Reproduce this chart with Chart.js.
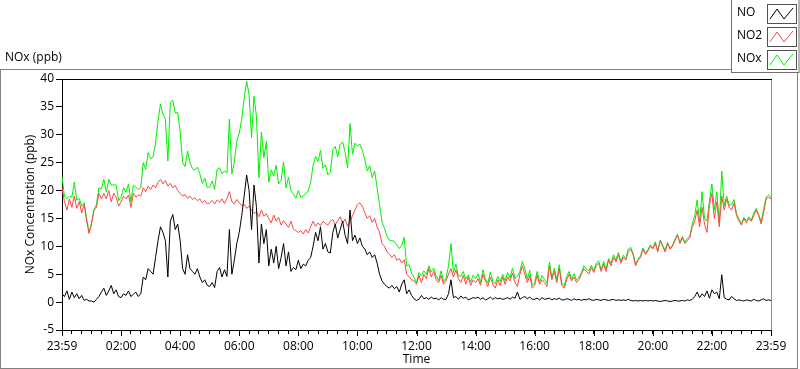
<!DOCTYPE html>
<html lang="en">
<head>
<meta charset="UTF-8">
<title>NOx (ppb)</title>
<style>
  html, body { margin: 0; padding: 0; background: #fff; }
  canvas { display: block; }
</style>
</head>
<body>
<canvas id="noxChart" width="800" height="369"></canvas>

<script src="https://cdn.jsdelivr.net/npm/chart.js@4.4.0/dist/chart.umd.min.js"></script>
<script>
// tick labels of the time axis, one every two hours
var timeLabels = ['23:59', '02:00', '04:00', '06:00', '08:00', '10:00', '12:00',
                  '14:00', '16:00', '18:00', '20:00', '22:00', '23:59'];
var seriesNames = ['NO', 'NO2', 'NOx'];
var stepMinutes = 5; // one reading every 5 minutes

// NO (ppb), 12 values per hour
var noValues = [
  1.5,1.0,2.0,0.5,1.8,0.8,1.5,0.6,1.2,0.3,0.5,0.2,
  0.2,0.0,0.5,1.0,1.8,2.5,1.2,2.0,3.0,1.5,2.2,1.0,
  0.8,1.5,1.2,2.0,1.0,1.4,1.8,1.0,1.5,4.5,4.0,6.0,
  5.5,5.0,8.0,11.0,13.5,12.5,11.0,4.5,14.5,15.7,13.0,14.0,
  11.0,6.0,5.0,8.5,6.0,5.5,5.0,6.0,4.5,3.5,4.0,3.0,
  2.8,3.5,2.6,5.5,6.2,4.5,5.8,4.6,13.0,5.0,7.5,10.5,
  12.5,15.5,19.0,22.8,20.0,13.0,21.0,17.0,7.0,14.0,10.5,13.0,
  6.5,9.5,7.0,10.0,6.0,8.0,10.5,6.5,9.0,5.5,6.2,5.8,
  7.5,6.0,6.8,6.5,7.5,8.0,10.0,12.5,11.0,13.5,9.5,10.5,
  9.0,8.8,12.5,14.0,11.5,13.0,14.5,12.0,10.5,16.5,11.0,12.0,
  10.5,11.5,10.0,9.5,8.5,9.0,8.0,8.5,7.0,5.0,3.8,3.2,
  2.8,2.5,3.0,2.4,2.8,1.8,3.2,4.0,1.5,2.2,1.2,0.6,
  0.3,0.5,1.2,0.6,0.8,0.5,0.9,0.6,0.7,0.4,0.8,0.5,
  0.5,1.5,4.0,0.8,1.0,0.5,1.1,0.7,0.9,0.4,0.6,0.8,
  0.7,0.9,0.5,0.8,0.4,0.6,0.9,0.5,0.8,0.6,0.7,0.5,
  0.6,0.8,0.5,0.9,0.7,1.8,0.5,0.8,1.0,0.6,0.9,0.5,
  0.5,0.7,0.4,0.8,0.5,0.6,0.7,0.4,0.6,0.5,0.7,0.4,
  0.4,0.6,0.5,0.3,0.6,0.4,0.5,0.3,0.5,0.4,0.6,0.4,
  0.3,0.5,0.4,0.3,0.5,0.4,0.3,0.4,0.5,0.3,0.4,0.3,
  0.4,0.3,0.5,0.3,0.2,0.3,0.2,0.3,0.2,0.3,0.2,0.3,
  0.2,0.3,0.2,0.1,0.2,0.3,0.2,0.1,0.2,0.3,0.2,0.2,
  0.3,0.2,0.4,0.3,0.5,1.0,1.8,0.8,1.5,1.0,2.0,0.7,
  2.2,1.5,1.8,0.6,4.9,0.8,0.5,0.4,1.0,0.6,0.3,0.4,
  0.3,0.2,0.4,0.3,0.2,0.5,0.3,0.2,0.4,0.6,0.3,0.4,
  0.3
];

// NO2 (ppb)
var no2Values = [
  20.5,18.0,16.5,18.5,17.0,19.0,16.8,18.0,16.0,17.5,14.5,12.3,
  14.0,16.5,17.0,19.5,18.5,19.5,18.5,20.0,18.0,19.5,18.8,17.2,
  18.0,19.0,18.5,19.2,17.0,19.5,18.8,19.2,19.0,20.5,19.8,20.8,
  20.2,21.0,20.5,21.5,22.0,21.2,21.8,20.8,21.3,20.5,20.9,20.0,
  19.5,19.0,19.3,18.6,19.0,18.4,18.7,18.2,18.5,17.8,18.2,17.6,
  17.8,18.2,17.6,18.3,17.9,18.5,17.7,18.6,19.8,18.0,17.6,18.4,
  17.8,17.3,17.5,16.8,17.2,16.5,15.9,16.2,15.3,16.5,15.4,15.8,
  15.0,14.2,15.6,14.5,15.2,13.8,14.6,14.0,13.4,14.5,13.1,12.8,
  12.5,12.8,12.2,13.0,12.4,13.5,14.5,13.6,14.2,13.7,14.5,14.1,
  13.8,14.5,14.8,13.9,14.6,15.3,14.2,14.9,13.6,14.5,15.5,16.5,
  17.5,17.8,17.2,16.0,15.0,15.5,14.3,15.0,13.5,12.5,10.5,10.0,
  9.0,8.6,8.0,8.5,7.5,7.8,7.0,7.6,5.0,4.5,4.0,3.8,
  3.2,4.8,3.5,5.0,4.2,6.0,4.5,5.5,4.0,3.5,4.8,3.2,
  3.8,5.0,6.0,4.5,5.8,4.2,3.5,4.8,3.2,4.5,3.0,4.0,
  3.5,4.2,3.0,5.0,3.8,2.8,4.5,3.2,2.5,4.0,3.0,4.5,
  3.2,4.5,3.8,5.2,3.5,2.8,5.0,6.5,5.0,3.5,4.8,2.5,
  3.0,4.8,3.2,4.0,3.5,2.8,6.5,4.0,5.5,3.5,6.0,3.0,
  2.5,4.0,5.0,3.8,4.5,3.5,4.0,5.0,6.0,5.5,5.0,6.2,
  5.3,6.5,7.0,5.5,6.8,5.5,7.5,6.5,8.0,7.2,8.5,7.0,
  8.0,7.5,9.0,9.5,8.5,6.5,7.5,8.0,9.5,8.5,9.2,10.0,
  9.5,10.5,9.0,11.0,10.0,9.0,10.5,9.5,10.0,11.0,12.0,10.5,
  11.5,10.5,11.0,11.5,13.5,14.5,16.5,13.5,17.0,14.0,12.5,17.5,
  19.5,15.0,18.0,13.5,19.0,16.5,18.5,17.0,16.5,17.8,15.5,14.5,
  13.8,15.0,14.2,15.0,14.5,15.5,16.5,15.5,14.0,16.0,18.5,18.8,
  18.5
];

// NOx (ppb)
var noxValues = [
  22.5,19.0,18.5,19.0,18.8,21.5,18.3,18.6,17.2,17.8,15.0,12.5,
  14.2,16.5,17.5,20.5,20.3,22.0,19.7,22.0,21.0,21.0,21.0,18.2,
  18.8,20.5,19.7,21.2,18.0,20.9,20.6,20.2,20.5,25.0,23.8,26.8,
  25.7,26.0,28.5,32.5,35.5,33.7,32.8,25.3,35.8,36.2,33.9,34.0,
  30.5,25.0,24.3,27.1,25.0,23.9,23.7,24.2,23.0,21.3,22.2,20.6,
  20.6,21.7,20.2,23.8,24.1,23.0,23.5,23.2,32.8,23.0,25.1,28.9,
  30.3,32.8,36.5,39.6,37.2,29.5,36.9,33.2,22.3,30.5,25.9,28.8,
  21.5,23.7,22.6,24.5,21.2,21.8,25.1,20.5,22.4,20.0,19.3,18.6,
  20.0,18.8,19.0,19.5,19.9,21.5,24.5,26.1,25.2,27.2,24.0,24.6,
  22.8,23.3,27.3,27.9,26.1,28.3,28.7,26.9,24.1,32.0,26.5,28.5,
  28.0,28.3,27.2,25.5,23.5,24.5,22.3,23.5,20.5,17.5,14.3,13.2,
  11.8,11.1,11.0,10.9,10.3,9.6,10.2,11.6,6.5,6.7,5.2,4.4,
  3.5,5.3,4.7,5.6,5.0,6.5,5.4,6.1,4.7,3.9,5.6,3.7,
  4.3,6.5,10.5,5.3,6.8,4.7,4.6,5.5,4.1,4.9,3.6,4.8,
  4.2,5.1,3.5,5.8,4.2,3.4,5.4,3.7,3.3,4.6,3.7,5.0,
  3.8,5.3,4.3,6.1,4.2,4.6,5.5,7.3,6.0,4.1,5.7,3.0,
  3.5,5.5,3.6,4.8,4.0,3.4,7.2,4.4,6.1,4.0,6.7,3.4,
  2.9,4.6,5.5,4.1,5.1,3.9,4.5,5.3,6.5,5.9,5.6,6.6,
  5.6,7.0,7.4,5.8,7.3,5.9,7.8,6.9,8.5,7.5,8.9,7.3,
  8.4,7.8,9.5,9.8,8.7,6.8,7.7,8.3,9.7,8.8,9.4,10.3,
  9.7,10.8,9.2,11.1,10.2,9.3,10.7,9.6,10.2,11.3,12.2,10.7,
  11.8,10.7,11.4,11.8,14.0,15.5,18.3,14.3,19.8,15.0,14.5,18.2,
  21.2,16.5,19.8,14.1,23.5,17.3,19.0,17.4,17.5,18.4,15.8,14.9,
  14.1,15.2,14.6,15.3,14.7,16.0,16.8,15.7,14.4,16.6,18.8,19.2,
  18.8
];

var seriesColors = ['#000000', '#ff4646', '#00f000'];
var FONT = '12px "Open Sans", "DejaVu Sans", sans-serif';

function toPoints(values) {
    return values.map(function (v, i) { return { x: i * stepMinutes, y: v }; });
}

// frame, titles, plot border, major ticks and the legend (LabVIEW style)
var panelPlugin = {
    id: 'panel',
    beforeDraw: function (chart) {
        var ctx = chart.ctx;
        ctx.save();
        ctx.fillStyle = '#fff';
        ctx.fillRect(0, 0, chart.width, chart.height);
        ctx.strokeStyle = '#808080';
        ctx.lineWidth = 1;
        ctx.strokeRect(0.5, 69.5, 797, 299);
        ctx.fillStyle = '#000';
        ctx.font = FONT;
        ctx.textBaseline = 'middle';
        ctx.fillText('NOx (ppb)', 5, 58);
        ctx.restore();
    },
    afterDraw: function (chart) {
        var ctx = chart.ctx;
        var a = chart.chartArea;
        var x = chart.scales.x;
        ctx.save();
        ctx.lineWidth = 1;

        // top and right edge of the plot
        ctx.strokeStyle = '#000';
        ctx.beginPath();
        ctx.moveTo(a.left, a.top + 0.5);
        ctx.lineTo(a.right + 1, a.top + 0.5);
        ctx.stroke();
        ctx.strokeStyle = '#909090';
        ctx.beginPath();
        ctx.moveTo(a.right + 0.5, a.top + 1);
        ctx.lineTo(a.right + 0.5, a.bottom);
        ctx.stroke();

        // longer marks at the labelled ticks
        ctx.strokeStyle = '#000';
        for (var i = 0; i < timeLabels.length; i++) {
            var px = Math.round(x.getPixelForValue(i * 120)) + 0.5;
            ctx.beginPath();
            ctx.moveTo(px, a.bottom);
            ctx.lineTo(px, a.bottom + 6);
            ctx.stroke();
        }

        // axis titles
        ctx.fillStyle = '#000';
        ctx.font = FONT;
        ctx.textAlign = 'center';
        ctx.textBaseline = 'middle';
        ctx.fillText('Time', (a.left + a.right) / 2, 360);
        ctx.save();
        ctx.translate(31, (a.top + a.bottom) / 2);
        ctx.rotate(-Math.PI / 2);
        ctx.fillText('NOx Concentration (ppb)', 0, 0);
        ctx.restore();

        // legend box
        ctx.fillStyle = '#fff';
        ctx.fillRect(731, 0, 69, 72);
        ctx.strokeStyle = '#707070';
        ctx.strokeRect(731.5, -1, 67.5, 73.5);
        ctx.textAlign = 'left';
        for (var s = 0; s < seriesNames.length; s++) {
            var by = 4 + s * 23;
            ctx.fillStyle = '#000';
            ctx.fillText(seriesNames[s], 737, by + 9);
            ctx.strokeStyle = '#505050';
            ctx.strokeRect(767.5, by + 0.5, 29, 19);
            ctx.strokeStyle = seriesColors[s];
            ctx.beginPath();
            ctx.moveTo(770, by + 15);
            ctx.lineTo(777, by + 5);
            ctx.lineTo(784, by + 15);
            ctx.lineTo(793, by + 4);
            ctx.stroke();
        }
        ctx.restore();
    }
};

var datasets = [noValues, no2Values, noxValues].map(function (vals, i) {
    return {
        label: seriesNames[i],
        data: toPoints(vals),
        borderColor: seriesColors[i],
        backgroundColor: seriesColors[i],
        borderWidth: 1,
        pointRadius: 0,
        tension: 0,
        fill: false
    };
});

var ctx = document.getElementById('noxChart').getContext('2d');
var noxChart = new Chart(ctx, {
    type: 'line',
    data: { datasets: datasets },
    options: {
        responsive: false,
        animation: false,
        devicePixelRatio: 1,
        layout: { padding: { left: 0, right: 29, top: 79, bottom: 0 } },
        plugins: { legend: { display: false }, tooltip: { enabled: false } },
        scales: {
            x: {
                type: 'linear',
                min: 0,
                max: 1440,
                afterFit: function (scale) { scale.height = 39; },
                afterBuildTicks: function (scale) {
                    var t = [];
                    for (var m = 0; m <= 1440; m += 20) t.push({ value: m });
                    scale.ticks = t;
                },
                ticks: {
                    autoSkip: false,
                    maxRotation: 0,
                    padding: 5,
                    color: '#000',
                    font: { family: '"Open Sans", "DejaVu Sans", sans-serif', size: 12 },
                    callback: function (v) { return v % 120 === 0 ? timeLabels[v / 120] : ''; }
                },
                grid: { drawOnChartArea: false, tickLength: 4, color: '#000' },
                border: { display: true, color: '#000' }
            },
            y: {
                min: -5,
                max: 40,
                afterFit: function (scale) { scale.width = 62; },
                ticks: {
                    stepSize: 5,
                    padding: 2,
                    color: '#000',
                    font: { family: '"Open Sans", "DejaVu Sans", sans-serif', size: 12 }
                },
                grid: { drawOnChartArea: false, tickLength: 6, color: '#000' },
                border: { display: true, color: '#000' }
            }
        }
    },
    plugins: [panelPlugin]
});
</script>
</body>
</html>
